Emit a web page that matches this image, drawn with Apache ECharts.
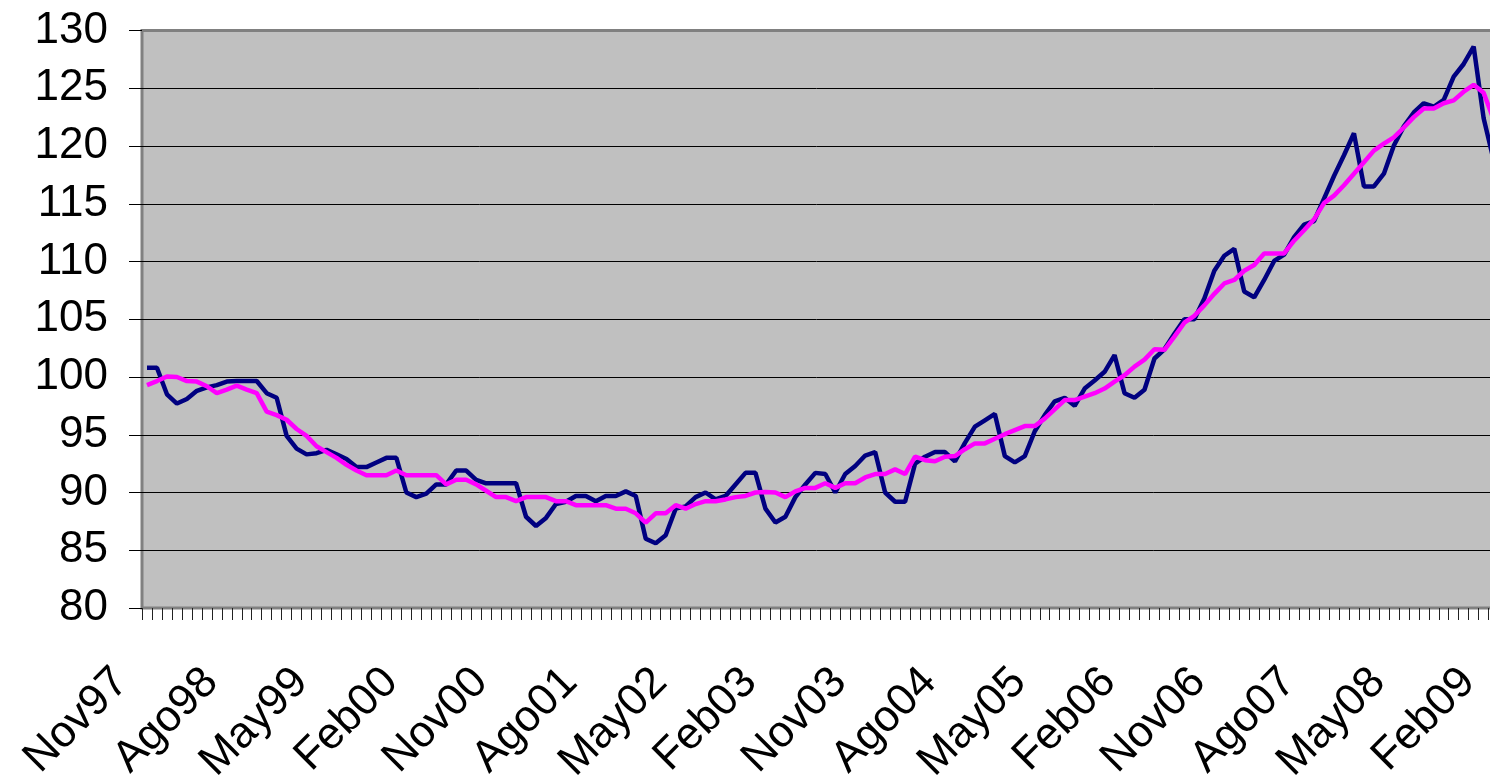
<!DOCTYPE html>
<html>
<head>
<meta charset="utf-8">
<script src="https://cdn.jsdelivr.net/npm/echarts@6/dist/echarts.min.js"></script>
<style>
  html, body { margin: 0; padding: 0; background: #ffffff; }
  #chart { width: 1490px; height: 783px; }
</style>
</head>
<body>
<div id="chart"></div>
<script>
// Monthly index, Nov 1997 – Feb 2009
const monthNames = ['Ene', 'Feb', 'Mar', 'Abr', 'May', 'Jun', 'Jul', 'Ago', 'Sep', 'Oct', 'Nov', 'Dic'];
const startYear = 1997;
const startMonth = 10; // Nov
const monthCount = 136;

const categories = [];
for (let k = 0; k < monthCount; k++) {
  const m = (startMonth + k) % 12;
  const y = startYear + Math.floor((startMonth + k) / 12);
  categories.push(monthNames[m] + String(y % 100).padStart(2, '0'));
}

// Monthly index (dark line)
const indexValues = [
  100.8, 100.8, 98.5, 97.7, 98.1, 98.8, 99.1, 99.3, 99.6, 99.65,
  99.65, 99.65, 98.6, 98.2, 94.9, 93.8, 93.3, 93.4, 93.7, 93.3,
  92.9, 92.2, 92.2, 92.6, 93.0, 93.0, 90.0, 89.6, 89.9, 90.7,
  90.7, 91.9, 91.9, 91.1, 90.8, 90.8, 90.8, 90.8, 87.9, 87.1,
  87.8, 89.0, 89.2, 89.7, 89.7, 89.25, 89.7, 89.7, 90.1, 89.7,
  86.0, 85.6, 86.3, 88.6, 88.8, 89.6, 90.0, 89.4, 89.7, 90.7,
  91.7, 91.7, 88.6, 87.4, 87.9, 89.6, 90.7, 91.7, 91.6, 90.0,
  91.6, 92.3, 93.2, 93.5, 90.0, 89.2, 89.2, 92.5, 93.1, 93.5,
  93.5, 92.7, 94.3, 95.7, 96.25, 96.8, 93.15, 92.6, 93.15, 95.3,
  96.7, 97.9, 98.2, 97.5, 99.0, 99.7, 100.45, 101.9, 98.6, 98.2,
  98.9, 101.6, 102.4, 103.75, 105.0, 105.0, 106.8, 109.2, 110.5, 111.1,
  107.4, 106.9, 108.4, 110.05, 110.6, 112.1, 113.2, 113.5, 115.45, 117.4,
  119.2, 121.1, 116.5, 116.5, 117.6, 120.05, 121.7, 122.9, 123.7, 123.4,
  124.0, 126.0, 127.1, 128.6, 122.4, 118.8
];

// Smoothed trend (magenta line)
const trendValues = [
  99.3, 99.65, 100.05, 100.0, 99.65, 99.6, 99.2, 98.6, 98.9, 99.25,
  98.9, 98.6, 97.0, 96.7, 96.3, 95.5, 94.9, 94.0, 93.5, 93.0,
  92.4, 91.9, 91.5, 91.5, 91.5, 91.9, 91.5, 91.5, 91.5, 91.5,
  90.7, 91.1, 91.1, 90.7, 90.15, 89.6, 89.6, 89.25, 89.6, 89.6,
  89.6, 89.25, 89.25, 88.9, 88.9, 88.9, 88.9, 88.6, 88.6, 88.2,
  87.4, 88.2, 88.2, 88.9, 88.6, 89.0, 89.25, 89.25, 89.4, 89.6,
  89.7, 90.0, 90.05, 90.0, 89.6, 90.1, 90.4, 90.4, 90.8, 90.4,
  90.8, 90.8, 91.3, 91.6, 91.6, 92.0, 91.6, 93.1, 92.8, 92.7,
  93.1, 93.15, 93.75, 94.25, 94.25, 94.65, 95.05, 95.4, 95.75, 95.75,
  96.4, 97.2, 98.0, 98.0, 98.3, 98.6, 99.0, 99.6, 100.15, 100.9,
  101.5, 102.4, 102.35, 103.5, 104.7, 105.3, 106.2, 107.2, 108.1, 108.4,
  109.2, 109.7, 110.7, 110.7, 110.7, 111.8, 112.7, 113.65, 115.05, 115.7,
  116.6, 117.6, 118.6, 119.6, 120.2, 120.75, 121.6, 122.5, 123.25, 123.25,
  123.7, 123.95, 124.7, 125.3, 124.6, 122.3
];

// Value axis
const yMin = 80;
const yMax = 130;
const yStep = 5;

const fontFamily = '"Liberation Sans", Arial, sans-serif';

const chart = echarts.init(document.getElementById('chart'), null, { renderer: 'canvas' });

chart.setOption({
  animation: false,
  backgroundColor: '#ffffff',
  grid: {
    show: true,
    left: 142,
    top: 30.5,
    width: 1356.6,
    height: 577.5,
    containLabel: false,
    outerBoundsMode: 'none',
    backgroundColor: '#c0c0c0',
    borderColor: '#808080',
    borderWidth: 3
  },
  xAxis: {
    type: 'category',
    data: categories,
    boundaryGap: true,
    axisLine: { show: false },
    axisTick: {
      show: true,
      interval: 0,
      length: 12,
      lineStyle: { color: '#222222', width: 1 }
    },
    axisLabel: {
      interval: 8,
      rotate: 45,
      margin: 42,
      padding: [0, 36, 0, 0],
      color: '#000000',
      fontSize: 44,
      fontFamily: fontFamily
    },
    splitLine: { show: false }
  },
  yAxis: {
    type: 'value',
    min: yMin,
    max: yMax,
    interval: yStep,
    axisLine: { show: false },
    axisTick: {
      show: true,
      length: 13,
      lineStyle: { color: '#000000', width: 1 }
    },
    axisLabel: {
      margin: 34,
      color: '#000000',
      fontSize: 44,
      fontFamily: fontFamily
    },
    splitLine: {
      show: true,
      showMinLine: false,
      showMaxLine: false,
      lineStyle: { color: '#000000', width: 1 }
    }
  },
  series: [
    {
      name: 'Índice',
      type: 'line',
      data: indexValues,
      showSymbol: false,
      symbol: 'none',
      lineStyle: { color: '#000080', width: 4.5 },
      itemStyle: { color: '#000080' },
      z: 3
    },
    {
      name: 'Tendencia',
      type: 'line',
      data: trendValues,
      showSymbol: false,
      symbol: 'none',
      lineStyle: { color: '#ff00ff', width: 4.5 },
      itemStyle: { color: '#ff00ff' },
      z: 4
    }
  ]
});
</script>
</body>
</html>
